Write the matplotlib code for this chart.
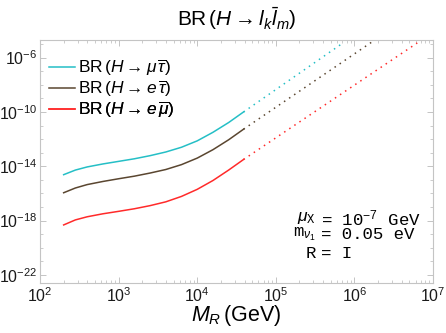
import matplotlib
matplotlib.use("Agg")
import matplotlib.pyplot as plt
import numpy as np

# ==================== Data ====================

# solid part: M_R in GeV, BR given as log10 values
m_solid = [200, 282, 398, 631, 1000, 1585, 2512, 3981, 6310, 10000, 15850, 25120, 38900]
log_br_mutau = [-14.62, -14.28, -14.05, -13.83, -13.64, -13.45, -13.22, -12.95,
                -12.60, -12.13, -11.50, -10.78, -10.00]
log_br_etau = [-15.95, -15.60, -15.35, -15.12, -14.92, -14.73, -14.50, -14.24,
               -13.88, -13.40, -12.78, -12.05, -11.27]
log_br_emu = [-18.32, -17.95, -17.72, -17.50, -17.32, -17.13, -16.90, -16.62,
              -16.22, -15.70, -15.05, -14.28, -13.50]

# dotted continuation: first and last point of each
m_dot_mutau = [38900, 716000]
log_dot_mutau = [-10.00, -4.92]
m_dot_etau = [38900, 1820000]
log_dot_etau = [-11.27, -4.70]
m_dot_emu = [38900, 6300000]
log_dot_emu = [-13.50, -4.92]

labels = [r"BR$\,(H\rightarrow\mu\,\overline{\tau})$",
          r"BR$\,(H\rightarrow e\,\overline{\tau})$",
          r"BR$\,(H\rightarrow e\,\overline{\mu})$"]
colors = ["#25bfc6", "#5a4630", "#ff2a2a"]

y_major = [-22, -18, -14, -10, -6]
x_major = [2, 3, 4, 5, 6, 7]

# ==================== Style ====================

plt.rcParams.update({
    "font.family": ["Liberation Sans", "DejaVu Sans"],
    "mathtext.fontset": "custom",
    "mathtext.rm": "Liberation Sans",
    "mathtext.it": "Liberation Sans:italic",
    "mathtext.bf": "Liberation Sans:bold",
    "mathtext.tt": "Liberation Mono",
})

# ==================== Plot ====================

fig = plt.figure(figsize=(4.46, 3.33), dpi=100)
ax = fig.add_axes([0.0897, 0.150, 0.8812, 0.730])

solid = [log_br_mutau, log_br_etau, log_br_emu]
dotted = [(m_dot_mutau, log_dot_mutau), (m_dot_etau, log_dot_etau), (m_dot_emu, log_dot_emu)]

handles = []
for vals, (md, ld), c, lab in zip(solid, dotted, colors, labels):
    h, = ax.plot(m_solid, 10.0 ** np.array(vals), color=c, lw=1.1, label=lab)
    ax.plot(md, 10.0 ** np.array(ld), color=c, lw=1.1, linestyle=(0, (1, 3)))
    handles.append(h)

ax.set_xscale("log")
ax.set_yscale("log")
ax.set_xlim(1e2, 1e7)
ax.set_ylim(10 ** -22.6, 10 ** -4.7)

ax.set_yticks([10.0 ** e for e in y_major])
ax.set_yticklabels([rf"$10^{{{e}}}$" for e in y_major])
ax.set_yticks([10.0 ** e for e in range(-22, -4) if e not in y_major], minor=True)
ax.set_yticklabels([], minor=True)
ax.set_xticks([10.0 ** e for e in x_major])
ax.set_xticklabels([rf"$10^{{{e}}}$" for e in x_major])

for s in ax.spines.values():
    s.set_color("#c4c4c4")
    s.set_linewidth(0.8)
ax.tick_params(which="both", direction="in", top=True, right=True,
               color="#c4c4c4", labelsize=11.5, labelcolor="#1a1a1a", pad=2)
ax.tick_params(which="major", length=4.5, width=0.7)
ax.tick_params(which="minor", length=2.5, width=0.6)

# one legend per row so the rows stay evenly spaced
for h, yy in zip(handles, [0.884, 0.798, 0.712]):
    leg = ax.legend(handles=[h], loc="center left", frameon=False, fontsize=12.5,
                    handlelength=1.5, handletextpad=0.2, borderpad=0.0,
                    borderaxespad=0.0, bbox_to_anchor=(0.022, yy))
    ax.add_artist(leg)

fig.text(0.530, 0.945, r"BR$\,(H\rightarrow l_k\bar{l}_m)$", ha="center",
         va="center", fontsize=15)
ax.set_xlabel(r"$M_R\,$(GeV)", fontsize=15.5, labelpad=-1)

# parameter box, aligned on the "=" signs
mono = "Liberation Mono"
xl, xr = 0.702, 0.716
rows = [(0.267, r"$\mu_{\mathtt{X}}$", r"= 10$^{-7}$ GeV"),
        (0.200, r"m$_{\nu_1}$", "= 0.05 eV"),
        (0.123, "R", "= I")]
for yy, left, right in rows:
    ax.text(xl, yy, left, transform=ax.transAxes, ha="right", va="center",
            fontsize=12.5, family=mono)
    ax.text(xr, yy, right, transform=ax.transAxes, ha="left", va="center",
            fontsize=12.5, family=mono)

fig.savefig("out.png", dpi=100)
